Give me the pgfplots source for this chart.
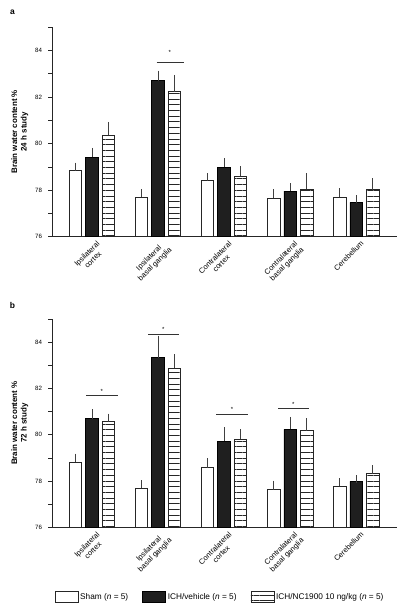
\documentclass[border=0pt]{standalone}
\usepackage{fontspec}
\setmainfont{Liberation Sans}
\usepackage{pgfplots}
\usepackage{pgfplotstable}
\pgfplotsset{compat=1.18}
\usetikzlibrary{patterns.meta}

\pgfplotstableread{
x sham shamerr veh veherr nc ncerr
0 78.84 0.17 79.41 0.23 80.37 0.39
1 77.71 0.15 82.70 0.26 82.23 0.54
2 78.42 0.13 78.99 0.20 78.60 0.25
3 77.64 0.23 77.96 0.17 78.03 0.53
4 77.69 0.21 77.47 0.14 78.02 0.31
}\dataA

\pgfplotstableread{
x sham shamerr veh veherr nc ncerr
0 78.81 0.20 80.69 0.23 80.59 0.14
1 77.68 0.18 83.32 0.78 82.86 0.43
2 78.57 0.23 79.72 0.42 79.80 0.26
3 77.62 0.22 80.23 0.36 80.17 0.36
4 77.77 0.17 77.98 0.10 78.31 0.19
}\dataB

\pgfplotsset{
  panel/.style={
    scale only axis, width=345bp,
    xmin=-0.606, xmax=4.62, ymin=76, ymax=85,
    axis lines=left, axis line style={-, line width=0.6bp, black!85},
    ytick={76,78,80,82,84}, minor ytick={77,79,81,83,85},
    tick align=outside, major tick length=3.5bp, minor tick length=3.5bp,
    tick style={line width=0.5bp, black!85},
    xtick={0,1,2,3,4}, xtick style={draw=none},
    xticklabels={{Ipsilateral\\cortex},{Ipsilateral\\basal ganglia},{Contralateral\\cortex},{Contralateral\\basal ganglia},{Cerebellum}},
    xticklabel style={rotate=45, anchor=north east, align=center, font=\fontsize{7.5}{8.5}\selectfont, inner sep=1bp, xshift=4bp, yshift=-2bp},
    yticklabel style={font=\fontsize{6.2}{7}\selectfont, xshift=-3bp},
    /pgf/number format/assume math mode=true,
    ylabel style={align=center, font=\bfseries\fontsize{8}{9.5}\selectfont},
    error bars/error bar style={line width=0.5bp, black!75},
    error bars/error mark options={line width=0.5bp, black!75, mark size=4bp},
  },
  shambar/.style={ybar, bar width=12.5bp, bar shift=0bp, fill=white, draw=black!85, line width=0.6bp},
  vehbar/.style={ybar, bar width=12.5bp, bar shift=0bp, fill=black!88, draw=black, line width=0.6bp},
  ncbar/.style={ybar, bar width=12.5bp, bar shift=0bp, draw=black!85, line width=0.6bp, pattern={Lines[angle=0,distance=5.7bp,line width=0.7bp]}, pattern color=black!85},
  sig/.style={forget plot, black!80, line width=0.6bp},
}

\begin{document}
\begin{tikzpicture}
\path[use as bounding box] (0,0) rectangle (406bp,612bp);
\node[font=\bfseries\fontsize{8.5}{9}\selectfont] at (12.5bp,599.5bp) {a};
\node[font=\bfseries\fontsize{8.5}{9}\selectfont] at (12.5bp,307bp) {b};

\begin{axis}[panel, height=209.7bp, at={(52bp,375.3bp)}, anchor=south west,
  ylabel={Brain water content \%\\24 h study}]
\addplot[shambar, error bars/.cd, y dir=plus, y explicit] table[x expr=\thisrow{x}-0.25, y=sham, y error=shamerr]{\dataA};
\addplot[vehbar, error bars/.cd, y dir=plus, y explicit] table[x=x, y=veh, y error=veherr]{\dataA};
\addplot[ncbar, error bars/.cd, y dir=plus, y explicit] table[x expr=\thisrow{x}+0.25, y=nc, y error=ncerr]{\dataA};
\addplot[sig] coordinates {(0.98,83.5) (1.39,83.5)};
\node[font=\fontsize{6}{7}\selectfont] at (axis cs:1.18,83.9) {*};
\end{axis}

\begin{axis}[panel, height=208.5bp, at={(52bp,84.7bp)}, anchor=south west,
  ylabel={Brain water content \%\\72 h study},
  legend columns=3,
  legend style={draw=none, at={(0.487,-0.334)}, anchor=center, font=\fontsize{8.3}{9.5}\selectfont,
    /tikz/every even column/.append style={column sep=12bp}},
  legend image code/.code={\draw[#1] (0bp,-5.8bp) rectangle (23bp,5.8bp);}]
\addplot[shambar, error bars/.cd, y dir=plus, y explicit] table[x expr=\thisrow{x}-0.25, y=sham, y error=shamerr]{\dataB};
\addlegendentry{Sham (\textit{n} = 5)}
\addplot[vehbar, error bars/.cd, y dir=plus, y explicit] table[x=x, y=veh, y error=veherr]{\dataB};
\addlegendentry{ICH/vehicle (\textit{n} = 5)}
\addplot[ncbar, error bars/.cd, y dir=plus, y explicit] table[x expr=\thisrow{x}+0.25, y=nc, y error=ncerr]{\dataB};
\addlegendentry{ICH/NC1900 10 ng/kg (\textit{n} = 5)}
\addplot[sig] coordinates {(-0.09,81.68) (0.39,81.68)};
\addplot[sig] coordinates {(0.85,84.35) (1.32,84.35)};
\addplot[sig] coordinates {(1.88,80.88) (2.36,80.88)};
\addplot[sig] coordinates {(2.82,81.12) (3.29,81.12)};
\node[font=\fontsize{6}{7}\selectfont] at (axis cs:0.15,81.88) {*};
\node[font=\fontsize{6}{7}\selectfont] at (axis cs:1.08,84.55) {*};
\node[font=\fontsize{6}{7}\selectfont] at (axis cs:2.12,81.08) {*};
\node[font=\fontsize{6}{7}\selectfont] at (axis cs:3.05,81.32) {*};
\end{axis}
\end{tikzpicture}
\end{document}
